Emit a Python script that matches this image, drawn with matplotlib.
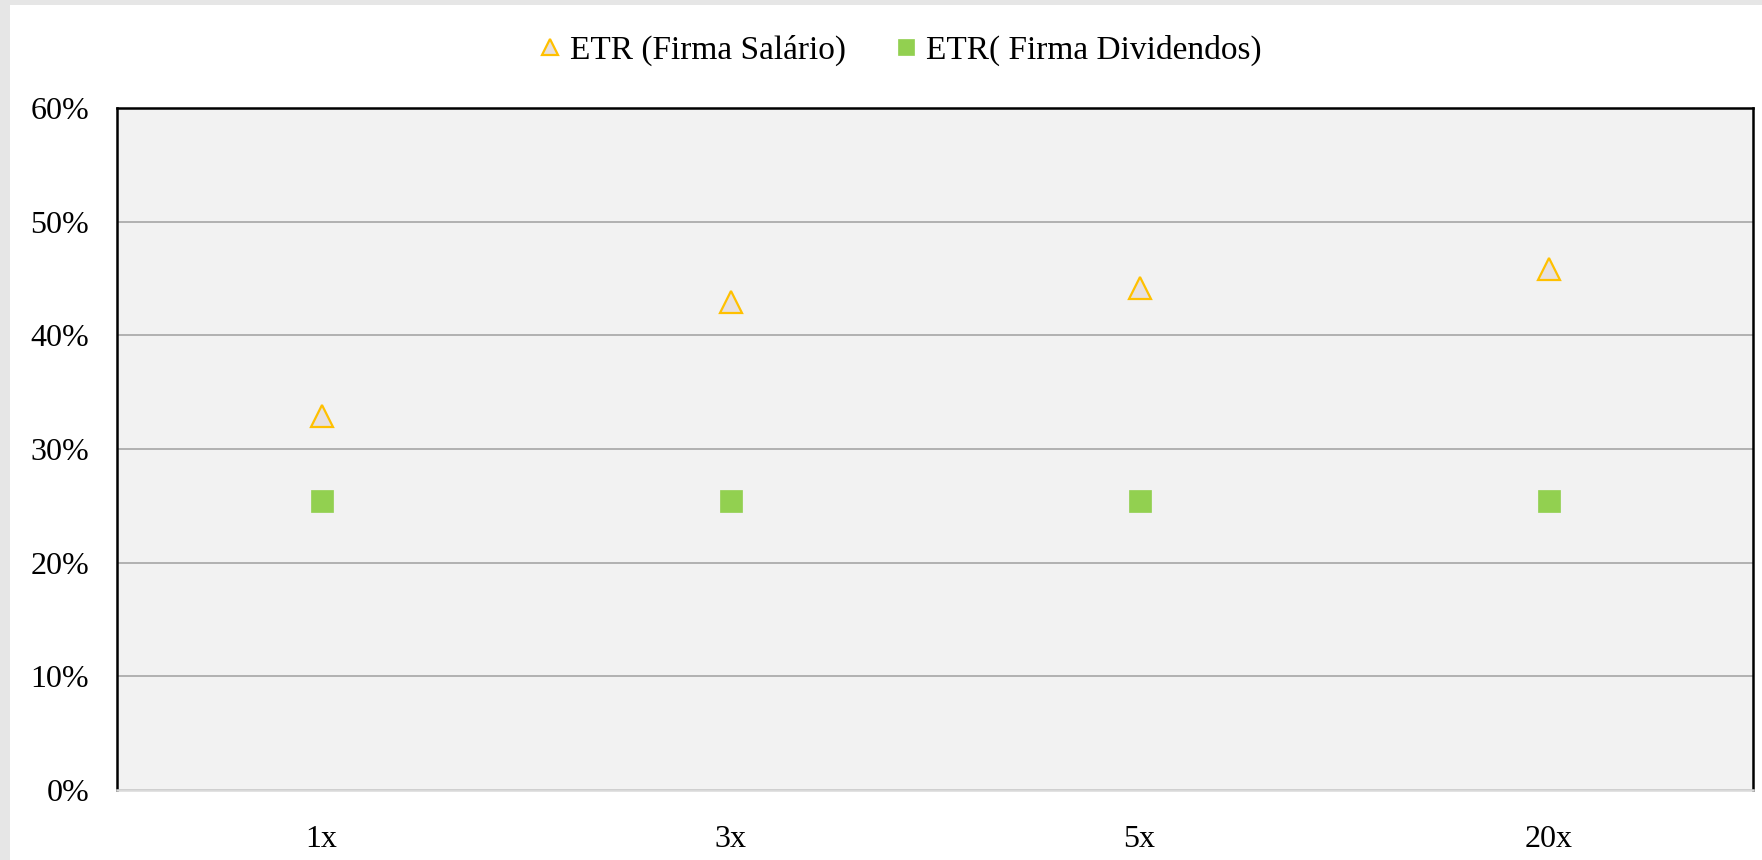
import matplotlib
matplotlib.use("Agg")
import matplotlib.pyplot as plt
from matplotlib.patches import Rectangle
from matplotlib.ticker import FuncFormatter, MultipleLocator

categories = ["1x", "3x", "5x", "20x"]
etr_salario = [0.329, 0.429, 0.442, 0.458]
etr_dividendos = [0.254, 0.254, 0.254, 0.254]
label_salario = "ETR (Firma Salário)"
label_dividendos = "ETR( Firma Dividendos)"

plt.rcParams['font.family'] = ['Liberation Serif', 'DejaVu Serif']

W, H = 1762, 860
fig = plt.figure(figsize=(W / 100, H / 100), dpi=100)
fig.patch.set_facecolor("white")
# thin grey frame strips (left and top edges)
fig.patches.append(Rectangle((0, 0), 10 / W, 1, transform=fig.transFigure,
                             facecolor="#e6e6e6", edgecolor="none", zorder=0))
fig.patches.append(Rectangle((0, 1 - 5 / H), 1, 5 / H, transform=fig.transFigure,
                             facecolor="#e6e6e6", edgecolor="none", zorder=0))

ax = fig.add_axes([117 / W, 1 - 790 / H, (1753 - 117) / W, (790 - 108) / H])
ax.set_facecolor("#f2f2f2")

x = list(range(len(categories)))
ax.plot(x, etr_salario, linestyle="none", marker="^", markersize=15.5,
        markerfacecolor="#e7e0e0", markeredgecolor="#ffc000", markeredgewidth=1.6,
        label=label_salario, zorder=3)
ax.plot(x, etr_dividendos, linestyle="none", marker="s", markersize=15.5,
        markerfacecolor="#92d050", markeredgecolor="#92d050", markeredgewidth=0.5,
        label=label_dividendos, zorder=3)

ax.set_xlim(-0.5, len(categories) - 0.5)
ax.set_ylim(0, 0.6)
ax.yaxis.set_major_locator(MultipleLocator(0.1))
ax.yaxis.set_major_formatter(FuncFormatter(lambda v, p: f"{v*100:.0f}%"))
ax.set_xticks(x)
ax.set_xticklabels(categories)
ax.tick_params(axis="both", length=0, labelsize=23, colors="black")
ax.tick_params(axis="y", pad=20)
ax.tick_params(axis="x", pad=25)

ax.grid(axis="y", color="#a6a6a6", linewidth=1.2)
ax.grid(axis="x", visible=False)
ax.set_axisbelow(True)

for s in ["left", "top", "right"]:
    ax.spines[s].set_color("black")
    ax.spines[s].set_linewidth(1.8)
ax.spines["bottom"].set_color("#d9d9d9")
ax.spines["bottom"].set_linewidth(1.8)

leg = fig.legend(loc="center", bbox_to_anchor=(901 / W, 1 - 50 / H), ncol=2,
                 frameon=False, fontsize=24, markerscale=0.75,
                 handlelength=0.6, handletextpad=0.3, columnspacing=1.5)

fig.savefig("out.png", dpi=100)
